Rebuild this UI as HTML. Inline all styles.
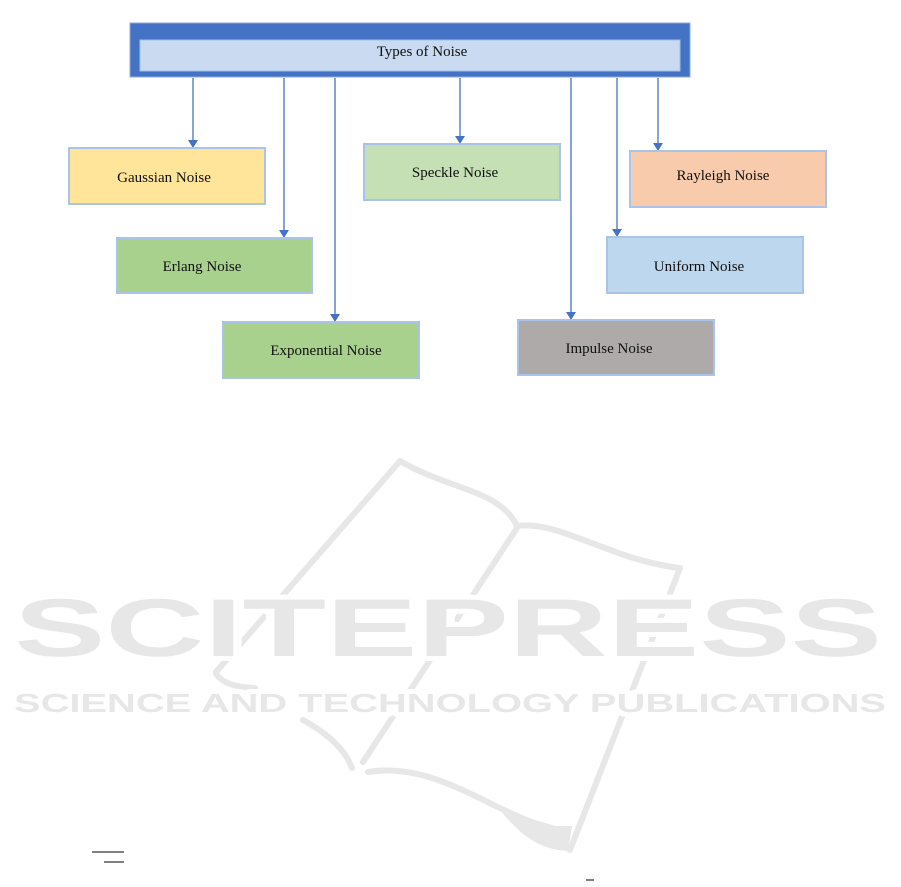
<!DOCTYPE html>
<html><head><meta charset="utf-8"><style>body{margin:0;background:#fff;overflow:hidden}svg{display:block}</style></head><body>
<svg width="901" height="887" viewBox="0 0 901 887" xmlns="http://www.w3.org/2000/svg">
<g fill="none" stroke="#e6e7e6" stroke-width="6" stroke-linecap="round" stroke-linejoin="round">
<path d="M400 461 L 216 672"/>
<path d="M216 674 C 222 682, 232 687, 255 688"/>
<path d="M400 461 C 450 490, 500 490, 517 526"/>
<path d="M517 526 C 560 520, 610 560, 680 568"/>
<path d="M517 528 L 363 762"/>
<path d="M680 568 L 570 850"/>
<path d="M303 720 C 330 735, 345 750, 352 768"/>
<path d="M368 772 C 440 760, 500 820, 560 830"/>
</g>
<path d="M556 826 L 572 826 L 568 851 C 540 850, 520 835, 500 810 Z" fill="#e6e7e6"/>
<g stroke="#fff" stroke-width="10" stroke-linejoin="round" paint-order="stroke" fill="#e6e7e6" font-family="Liberation Sans, sans-serif" font-weight="bold">
<text x="14" y="656" font-size="82" textLength="868" lengthAdjust="spacingAndGlyphs">SCITEPRESS</text>
<text x="14" y="712" font-size="26" textLength="872" lengthAdjust="spacingAndGlyphs">SCIENCE AND TECHNOLOGY PUBLICATIONS</text>
</g>
<line x1="92" y1="852" x2="124" y2="852" stroke="#000" stroke-width="1"/>
<line x1="104" y1="862" x2="124" y2="862" stroke="#000" stroke-width="1"/>
<line x1="586" y1="880" x2="594" y2="880" stroke="#000" stroke-width="1"/>

<rect x="130" y="23" width="560" height="54" fill="#4472c4" stroke="#8faadc" stroke-width="1"/>
<rect x="140" y="40" width="540" height="31" fill="#c9daf1" stroke="#9dc3e6" stroke-width="1"/>
<text x="422" y="56" text-anchor="middle" font-family="Liberation Serif, serif" font-size="15" fill="#111">Types of Noise</text>

<g stroke="#4472c4" stroke-width="1.3">
<line x1="193" y1="78" x2="193" y2="140"/>
<line x1="284" y1="78" x2="284" y2="230"/>
<line x1="335" y1="78" x2="335" y2="314"/>
<line x1="460" y1="78" x2="460" y2="136"/>
<line x1="571" y1="78" x2="571" y2="312"/>
<line x1="617" y1="78" x2="617" y2="229"/>
<line x1="658" y1="78" x2="658" y2="143"/>
</g>
<g fill="#4472c4">
<path d="M188 140 L198 140 L193 148Z"/>
<path d="M279 230 L289 230 L284 238Z"/>
<path d="M330 314 L340 314 L335 322Z"/>
<path d="M455 136 L465 136 L460 144Z"/>
<path d="M566 312 L576 312 L571 320Z"/>
<path d="M612 229 L622 229 L617 237Z"/>
<path d="M653 143 L663 143 L658 151Z"/>
</g>
<g stroke="#a9c4e8" stroke-width="2">
<rect x="69" y="148" width="196" height="56" fill="#ffe599"/>
<rect x="117" y="238" width="195" height="55" fill="#a9d18e"/>
<rect x="223" y="322" width="196" height="56" fill="#a9d18e"/>
<rect x="364" y="144" width="196" height="56" fill="#c5e0b4"/>
<rect x="518" y="320" width="196" height="55" fill="#aeaaaa"/>
<rect x="607" y="237" width="196" height="56" fill="#bdd7ee"/>
<rect x="630" y="151" width="196" height="56" fill="#f8cbad"/>
</g>
<g font-family="Liberation Serif, serif" font-size="15" fill="#111" text-anchor="middle">
<text x="164" y="182">Gaussian Noise</text>
<text x="202" y="271">Erlang Noise</text>
<text x="326" y="355">Exponential Noise</text>
<text x="455" y="177">Speckle Noise</text>
<text x="609" y="353">Impulse Noise</text>
<text x="699" y="271">Uniform Noise</text>
<text x="723" y="180">Rayleigh Noise</text>
</g>
</svg>
</body></html>
